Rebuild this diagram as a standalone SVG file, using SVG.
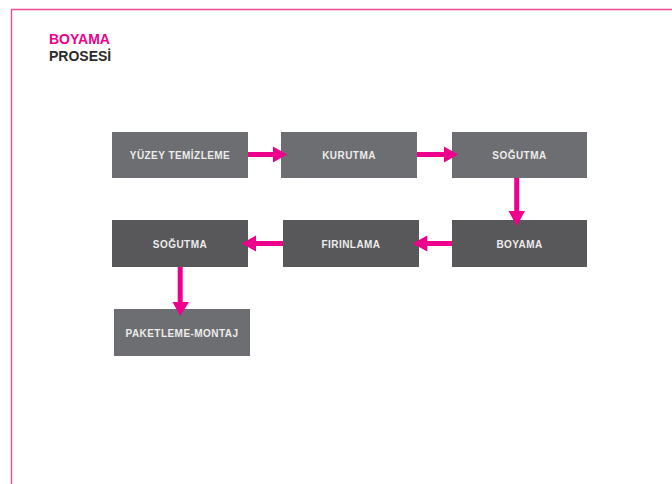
<svg xmlns="http://www.w3.org/2000/svg" width="672" height="484" viewBox="0 0 672 484">
<style>
.light{fill:#6d6e71}
.dark{fill:#58585a}
.lbl{font-family:"Liberation Sans",Arial,sans-serif;font-weight:bold;font-size:10px;letter-spacing:0.45px;fill:#ececec;text-anchor:middle}
.ttl{font-family:"Liberation Sans",Arial,sans-serif;font-weight:bold;font-size:14px}
.con{stroke:#ec008c;stroke-width:5;fill:none}
.head{fill:#ec008c}
</style>
<rect width="672" height="484" fill="#ffffff"/>
<path d="M11.5 484 V9.5 H672" fill="none" stroke="#ee4a9a" stroke-width="1.4"/>
<text class="ttl" x="49" y="43.5" fill="#ec008c">BOYAMA</text>
<text class="ttl" x="49" y="60.5" fill="#2b2b2b">PROSESİ</text>
<g id="n1"><rect class="light" x="112" y="132" width="136" height="46"/><text class="lbl" x="180" y="159.3">YÜZEY TEMİZLEME</text></g>
<g id="n2"><rect class="light" x="281" y="132" width="136" height="46"/><text class="lbl" x="349" y="159.3">KURUTMA</text></g>
<g id="n3"><rect class="light" x="452" y="132" width="135" height="46"/><text class="lbl" x="519.5" y="159.3">SOĞUTMA</text></g>
<g id="n4"><rect class="dark" x="452" y="220" width="135" height="47"/><text class="lbl" x="519.5" y="247.8">BOYAMA</text></g>
<g id="n5"><rect class="dark" x="283" y="220" width="136" height="47"/><text class="lbl" x="351" y="247.8">FIRINLAMA</text></g>
<g id="n6"><rect class="dark" x="112" y="220" width="136" height="47"/><text class="lbl" x="180" y="247.8">SOĞUTMA</text></g>
<g id="n7"><rect class="light" x="114" y="309" width="136" height="47"/><text class="lbl" x="182" y="336.8">PAKETLEME-MONTAJ</text></g>
<g id="connectors">
<line class="con" x1="248" y1="154.5" x2="274" y2="154.5"/><polygon class="head" points="273,146.5 287,154.5 273,162.5"/>
<line class="con" x1="417" y1="154.5" x2="445" y2="154.5"/><polygon class="head" points="444,146.5 458,154.5 444,162.5"/>
<line class="con" x1="516.7" y1="178" x2="516.7" y2="212"/><polygon class="head" points="508.5,211 525,211 516.7,226"/>
<line class="con" x1="452" y1="243.5" x2="426" y2="243.5"/><polygon class="head" points="427.3,235.5 412.7,243.5 427.3,251.5"/>
<line class="con" x1="283" y1="243.5" x2="255" y2="243.5"/><polygon class="head" points="256,235.5 241.7,243.5 256,251.5"/>
<line class="con" x1="180.2" y1="267" x2="180.2" y2="303"/><polygon class="head" points="172.5,302 189,302 180.2,316"/>
</g>
</svg>
